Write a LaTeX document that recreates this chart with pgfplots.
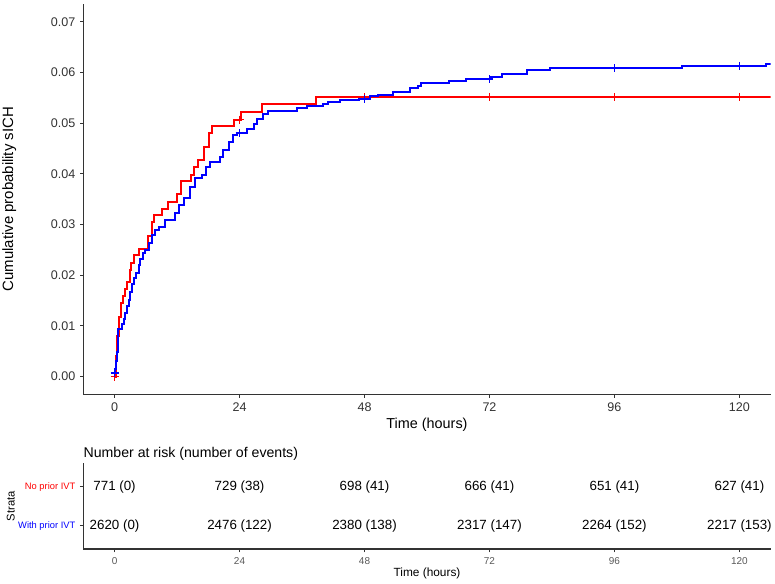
\documentclass[border=0pt]{standalone}
\usepackage{pgfplots}
\pgfplotsset{compat=1.18}
\usepackage{fontspec}
\setmainfont{Liberation Sans}
\definecolor{axgray}{HTML}{333333}
\definecolor{tickgray}{HTML}{333333}
\definecolor{kmred}{HTML}{FF0000}
\definecolor{kmblue}{HTML}{0000FF}
\newcommand{\fs}[1]{\fontsize{#1}{#1}\selectfont}
\begin{document}
\begin{tikzpicture}
\useasboundingbox (0,0) rectangle (581.25pt,437.25pt);
% ---------------- main plot ----------------
\begin{axis}[
  at={(62.5pt,141.5pt)}, anchor=south west,
  scale only axis, width=515.5pt, height=292.75pt,
  xmin=-6, xmax=126, ymin=-0.0035, ymax=0.0735,
  axis lines=left, axis line style={-, axgray, line width=0.8pt},
  tick align=outside, major tick length=2.5pt,
  tick style={axgray, line width=0.7pt},
  xtick={0,24,48,72,96,120},
  ytick={0,0.01,0.02,0.03,0.04,0.05,0.06,0.07},
  /pgf/number format/assume math mode=true,
  yticklabel style={/pgf/number format/.cd, fixed, fixed zerofill, precision=2},
  scaled y ticks=false,
  ticklabel style={font=\fs{9.4}, text=tickgray},
  xlabel={Time (hours)}, ylabel={Cumulative probability sICH},
  xlabel style={font=\fs{10.8}, text=black, at={([yshift=-22.5pt]axis description cs:0.5,0)}, anchor=center},
  ylabel style={font=\fs{11.2}, text=black, at={([xshift=-55.5pt]axis description cs:0,0.5)}, anchor=center},
]
% No prior IVT (red)
\addplot[const plot, draw=kmred, line width=1.5pt, mark=none] coordinates {
(0,0) (0.3,0.004) (0.55,0.008) (0.8,0.0117) (1.22,0.0146) (1.6,0.0159)
(2.05,0.0172) (2.37,0.0186) (2.88,0.0211) (3.14,0.0224) (3.65,0.0239)
(4.61,0.0252) (6.4,0.0278) (7.1,0.0304) (7.66,0.0319) (9.12,0.033)
(10.2,0.0345) (12.0,0.036) (12.76,0.0386) (14.74,0.0397) (15.3,0.0413)
(16.1,0.0427) (17.2,0.0453) (18.2,0.0481) (18.7,0.0494) (22.9,0.0507)
(24.3,0.0522) (28.4,0.0537) (38.6,0.0552) (126,0.0552)
};
% With prior IVT (blue)
\addplot[const plot, draw=kmblue, line width=1.5pt, mark=none] coordinates {
(0,0.0007) (0.13,0.0014) (0.3,0.003) (0.45,0.0048) (0.58,0.0075) (0.7,0.0093)
(1.41,0.0103) (1.73,0.0113) (2.05,0.0126) (2.37,0.0139) (2.69,0.0152)
(3.01,0.0167) (3.33,0.0182) (3.65,0.0195) (4.1,0.0205) (4.61,0.0221)
(4.93,0.0231) (5.38,0.0244) (5.89,0.025) (6.53,0.0264) (7.17,0.028)
(7.8,0.029) (8.48,0.0296) (9.76,0.0309) (11.67,0.0322) (12.3,0.0339)
(13.27,0.0352) (14.55,0.0374) (15.5,0.0391) (16.78,0.0397) (17.6,0.0414)
(18.37,0.0424) (20.3,0.0433) (20.9,0.0447) (21.9,0.0463) (22.8,0.0476)
(23.5,0.0480) (25.4,0.0489) (26.7,0.0499) (27.3,0.0509) (28.6,0.0519)
(29.5,0.0524) (35,0.053) (36.9,0.0533) (40.1,0.0538) (41,0.0542)
(43.3,0.0546) (47,0.0548) (49,0.0553) (50.5,0.0556) (53.5,0.0561)
(56.8,0.0569) (58.2,0.0574) (58.9,0.058) (64.3,0.0583) (67.4,0.0587)
(72.3,0.0591) (74.4,0.0596) (79.3,0.0604) (83.6,0.0608) (109,0.0613)
(125.1,0.0617) (126,0.0617)
};
% censoring marks
\addplot[only marks, mark=+, mark size=3pt, mark options={draw=kmred, line width=1.3pt}] coordinates {
(0,0) (24,0.0507) (48,0.0552) (72,0.0552) (96,0.0552) (120,0.0552)
};
\addplot[only marks, mark=+, mark size=3pt, mark options={draw=kmblue, line width=1.3pt}] coordinates {
(0,0.0007) (24,0.0480) (48,0.0548) (72,0.0587) (96,0.0608) (120,0.0612)
};
\end{axis}
% ---------------- risk table ----------------
\begin{axis}[
  at={(62.5pt,25.5pt)}, anchor=south west,
  scale only axis, width=515.5pt, height=64.3pt,
  xmin=-6, xmax=126, ymin=0.4, ymax=2.6,
  axis lines=left, axis line style={-, axgray, line width=0.8pt},
  tick align=outside, major tick length=2.5pt,
  tick style={axgray, line width=0.7pt},
  xtick={0,24,48,72,96,120},
  ytick={1,2},
  yticklabels={\textcolor{kmblue}{With prior IVT}, \textcolor{kmred}{No prior IVT}},
  /pgf/number format/assume math mode=true,
  xticklabel style={font=\fs{7.5}, text=black!65},
  yticklabel style={font=\fs{7}},
  xlabel={Time (hours)}, ylabel={Strata},
  xlabel style={font=\fs{8.9}, at={([yshift=-18.5pt]axis description cs:0.5,0)}, anchor=center},
  ylabel style={font=\fs{8.4}, at={([xshift=-54.5pt]axis description cs:0,0.5)}, anchor=center},
  title={Number at risk (number of events)},
  title style={font=\fs{10.6}, at={([yshift=0.8pt]axis description cs:0,1)}, anchor=west, inner xsep=0pt},
  clip=false,
  nodes near coords, point meta=explicit symbolic,
  nodes near coords align={center},
  every node near coord/.append style={font=\fs{10}, text=black},
]
\addplot[draw=none, mark=none] coordinates {
(0,2)[771 (0)] (24,2)[729 (38)] (48,2)[698 (41)] (72,2)[666 (41)] (96,2)[651 (41)] (120,2)[627 (41)]
};
\addplot[draw=none, mark=none] coordinates {
(0,1)[2620 (0)] (24,1)[2476 (122)] (48,1)[2380 (138)] (72,1)[2317 (147)] (96,1)[2264 (152)] (120,1)[2217 (153)]
};
\end{axis}
\end{tikzpicture}
\end{document}
